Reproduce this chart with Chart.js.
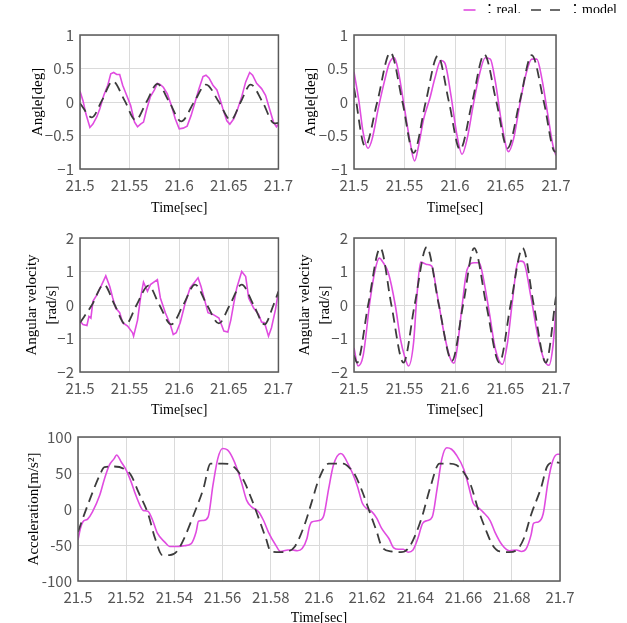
<!DOCTYPE html>
<html lang="en">
<head>
<meta charset="UTF-8">
<title>Real vs model: angle, angular velocity, acceleration</title>
<script src="https://cdn.jsdelivr.net/npm/chart.js@4"></script>
<style>
  body { margin: 0; width: 627px; height: 623px; overflow: hidden; background: #fff; position: relative; }
  canvas { position: absolute; }
</style>
</head>
<body>
<canvas id="legendKey" width="200" height="40" style="left:427px;top:-7px"></canvas>
<canvas id="angleLeft" width="300" height="200" style="left:0;top:20px"></canvas>
<canvas id="angleRight" width="337" height="200" style="left:290px;top:20px"></canvas>
<canvas id="velLeft" width="300" height="200" style="left:0;top:220px"></canvas>
<canvas id="velRight" width="337" height="200" style="left:290px;top:220px"></canvas>
<canvas id="accel" width="627" height="215" style="left:0;top:420px"></canvas>

<script>
// tick labels
var xTicksShort = [21.5, 21.55, 21.6, 21.65, 21.7];
var xTicksLong = [21.5, 21.52, 21.54, 21.56, 21.58, 21.6, 21.62, 21.64, 21.66, 21.68, 21.7];
var yTicksAngle = [-1, -0.5, 0, 0.5, 1];
var yTicksVel = [-2, -1, 0, 1, 2];
var yTicksAcc = [-100, -50, 0, 50, 100];

// angle, left panel
var angL_realT = [21.500,21.503,21.506,21.510,21.513,21.517,21.520,21.524,21.528,21.531,21.534,21.537,21.540,21.543,21.547,21.551,21.555,21.558,21.561,21.564,21.567,21.571,21.575,21.578,21.581,21.584,21.588,21.592,21.596,21.600,21.604,21.608,21.612,21.616,21.620,21.624,21.627,21.630,21.634,21.638,21.641,21.644,21.648,21.651,21.655,21.659,21.663,21.667,21.671,21.674,21.678,21.683,21.687,21.691,21.695,21.698,21.700];
var angL_realY = [0.16,0.02,-0.18,-0.38,-0.33,-0.22,-0.10,0.10,0.25,0.42,0.44,0.41,0.41,0.25,0.10,-0.05,-0.30,-0.37,-0.33,-0.30,-0.12,0.08,0.18,0.28,0.26,0.22,0.12,-0.05,-0.25,-0.40,-0.39,-0.36,-0.20,0.00,0.20,0.38,0.40,0.36,0.25,0.18,0.05,-0.10,-0.28,-0.33,-0.25,-0.10,0.08,0.30,0.44,0.40,0.28,0.20,0.10,-0.10,-0.30,-0.37,-0.33];
var angL_modelT = [21.500,21.512,21.522,21.533,21.545,21.556,21.567,21.578,21.590,21.602,21.615,21.627,21.640,21.652,21.662,21.672,21.684,21.696,21.700];
var angL_modelY = [-0.02,-0.23,0.02,0.31,0.02,-0.27,0.00,0.27,0.00,-0.29,0.00,0.26,0.00,-0.27,0.00,0.26,0.00,-0.32,-0.31];

// angle, right panel
var angR_realT = [21.500,21.505,21.509,21.514,21.518,21.524,21.530,21.535,21.540,21.544,21.549,21.555,21.560,21.564,21.569,21.575,21.580,21.586,21.590,21.596,21.602,21.607,21.612,21.618,21.624,21.630,21.635,21.640,21.646,21.653,21.658,21.664,21.670,21.676,21.681,21.686,21.692,21.697,21.700];
var angR_realY = [0.45,0.00,-0.45,-0.69,-0.55,-0.10,0.30,0.58,0.66,0.45,0.00,-0.55,-0.88,-0.65,-0.25,0.05,0.35,0.62,0.58,0.10,-0.50,-0.78,-0.55,-0.05,0.40,0.66,0.64,0.30,-0.30,-0.74,-0.55,-0.05,0.40,0.64,0.64,0.35,-0.20,-0.65,-0.80];
var angR_modelT = [21.500,21.511,21.523,21.536,21.548,21.559,21.571,21.583,21.594,21.605,21.617,21.629,21.641,21.652,21.664,21.676,21.688,21.699,21.700];
var angR_modelY = [0.21,-0.66,0.00,0.74,0.00,-0.76,0.00,0.69,0.00,-0.71,0.00,0.71,0.00,-0.69,0.00,0.70,0.00,-0.74,-0.74];

// angular velocity, left panel
var velL_realT = [21.500,21.503,21.507,21.509,21.511,21.513,21.517,21.521,21.526,21.530,21.533,21.536,21.540,21.543,21.548,21.553,21.554,21.558,21.561,21.564,21.568,21.571,21.578,21.581,21.586,21.591,21.594,21.597,21.601,21.606,21.611,21.619,21.622,21.629,21.634,21.640,21.645,21.649,21.652,21.655,21.658,21.663,21.667,21.670,21.675,21.680,21.683,21.686,21.690,21.693,21.697,21.700];
var velL_realY = [-0.48,-0.58,-0.61,-0.34,-0.39,0.11,0.30,0.55,0.87,0.55,0.21,-0.09,-0.23,-0.53,-0.63,-0.83,-0.93,-0.45,0.21,0.68,0.41,0.61,0.76,0.21,-0.23,-0.58,-0.88,-0.83,-0.53,0.05,0.51,0.81,0.55,-0.23,-0.28,-0.39,-0.78,-0.81,-0.45,0.05,0.51,1.00,0.85,0.21,-0.09,-0.28,-0.51,-0.53,-0.93,-0.68,-0.14,0.41];
var velL_modelT = [21.500,21.512,21.524,21.535,21.546,21.557,21.569,21.580,21.592,21.604,21.616,21.628,21.640,21.651,21.663,21.675,21.686,21.695,21.700];
var velL_modelY = [-0.53,0.00,0.61,0.00,-0.58,0.00,0.58,0.00,-0.58,0.00,0.61,0.00,-0.55,0.00,0.61,0.00,-0.58,0.00,0.40];

// angular velocity, right panel
var velR_realT = [21.500,21.504,21.509,21.516,21.521,21.525,21.529,21.534,21.541,21.546,21.550,21.554,21.559,21.562,21.566,21.572,21.577,21.582,21.589,21.595,21.599,21.602,21.607,21.612,21.619,21.624,21.627,21.634,21.640,21.647,21.652,21.657,21.662,21.665,21.668,21.675,21.682,21.688,21.693,21.697,21.700];
var velR_realY = [-1.28,-1.82,-1.52,0.16,1.06,1.40,1.26,0.96,-0.03,-1.02,-1.52,-1.82,-1.12,0.16,1.28,1.21,1.16,0.37,-0.82,-1.57,-1.74,-1.32,-0.03,1.06,1.26,1.26,0.96,-0.23,-1.32,-1.77,-1.12,0.16,1.26,1.31,1.28,0.27,-0.92,-1.62,-1.80,-1.22,-0.10];
var velR_modelT = [21.500,21.503,21.514,21.526,21.537,21.549,21.560,21.572,21.584,21.597,21.608,21.619,21.631,21.644,21.655,21.667,21.678,21.690,21.700];
var velR_modelY = [-1.50,-1.72,0.00,1.70,0.00,-1.72,0.00,1.73,0.00,-1.67,0.00,1.70,0.00,-1.72,0.00,1.70,0.00,-1.72,0.25];

// acceleration
var acc_realT = [21.500,21.501,21.502,21.504,21.506,21.509,21.511,21.513,21.515,21.516,21.518,21.520,21.522,21.524,21.526,21.527,21.529,21.531,21.533,21.536,21.538,21.541,21.544,21.547,21.549,21.550,21.552,21.554,21.556,21.558,21.560,21.562,21.564,21.566,21.568,21.570,21.572,21.575,21.577,21.579,21.582,21.584,21.587,21.589,21.591,21.593,21.595,21.596,21.597,21.600,21.602,21.604,21.606,21.609,21.610,21.612,21.614,21.616,21.618,21.620,21.622,21.624,21.626,21.629,21.631,21.633,21.635,21.637,21.639,21.641,21.643,21.645,21.647,21.649,21.651,21.653,21.655,21.657,21.660,21.662,21.664,21.666,21.668,21.671,21.673,21.676,21.679,21.682,21.684,21.686,21.688,21.689,21.691,21.693,21.695,21.697,21.699,21.700];
var acc_realY = [-43,-27,-18,-14,-4,19,42,61,70,75,65,54,38,19,3,-2,-3,-16,-34,-46,-52,-52,-51,-48,-32,-17,-16,-11,33,70,84,82,72,56,35,12,3,-4,-16,-32,-50,-59,-57,-57,-58,-55,-41,-25,-18,-16,-9,28,61,77,75,63,49,31,8,0,-4,-13,-27,-41,-54,-56,-56,-60,-57,-41,-20,-16,-11,28,70,85,83,75,56,33,8,2,-4,-16,-32,-50,-58,-57,-59,-55,-36,-20,-18,-7,37,67,76,76];
var acc_modelT = [21.500,21.502,21.505,21.509,21.511,21.515,21.519,21.522,21.525,21.529,21.532,21.535,21.538,21.541,21.544,21.548,21.552,21.555,21.560,21.563,21.566,21.569,21.572,21.575,21.578,21.580,21.584,21.587,21.590,21.594,21.597,21.600,21.604,21.610,21.613,21.615,21.618,21.621,21.624,21.626,21.630,21.634,21.637,21.640,21.643,21.646,21.650,21.654,21.657,21.660,21.663,21.666,21.669,21.672,21.675,21.679,21.682,21.685,21.688,21.692,21.695,21.698,21.700];
var acc_modelY = [-32,-13,14,47,58,59,56,47,24,-6,-41,-64,-64,-59,-41,-8,28,63,63,62,54,38,14,-13,-41,-59,-60,-59,-52,-22,10,42,63,63,56,47,24,-4,-32,-52,-59,-60,-55,-36,-8,28,63,63,61,51,33,0,-27,-50,-59,-60,-57,-41,-8,28,61,65,64];

var REAL_COLOR = '#e04ce0';
var MODEL_COLOR = '#3c3c3c';
var SERIF = "'Liberation Serif', 'Noto Sans CJK JP', serif";
var TICK_FONT = "'Noto Sans CJK JP', 'Noto Sans', sans-serif";

function pts(t, y) {
    return t.map(function (v, i) { return {x: v, y: y[i]}; });
}

function fmt(v) {
    return String(v).replace('-', '\u2212');
}

// box around the plot area
var frame = {
    id: 'frame',
    afterDatasetsDraw: function (chart) {
        var a = chart.chartArea, ctx = chart.ctx;
        ctx.save();
        ctx.strokeStyle = '#5a5a5a';
        ctx.lineWidth = 1.5;
        ctx.strokeRect(a.left, a.top, a.right - a.left, a.bottom - a.top);
        ctx.restore();
    }
};

function makePanel(id, o) {
    return new Chart(document.getElementById(id), {
        type: 'line',
        data: {
            datasets: [{
                label: 'model',
                data: pts(o.modelT, o.modelY),
                borderColor: MODEL_COLOR,
                borderWidth: 1.8,
                borderDash: [10, 6],
                pointRadius: 0,
                cubicInterpolationMode: 'monotone',
                order: 0
            }, {
                label: 'real',
                data: pts(o.realT, o.realY),
                borderColor: REAL_COLOR,
                borderWidth: 1.6,
                pointRadius: 0,
                cubicInterpolationMode: o.smooth ? 'monotone' : 'default',
                tension: 0,
                order: 1
            }]
        },
        options: {
            responsive: false,
            animation: false,
            devicePixelRatio: 1,
            layout: { padding: o.pad },
            plugins: { legend: { display: false }, tooltip: { enabled: false } },
            scales: {
                x: {
                    type: 'linear',
                    min: o.xTicks[0],
                    max: o.xTicks[o.xTicks.length - 1],
                    afterBuildTicks: function (s) { s.ticks = o.xTicks.map(function (v) { return {value: v}; }); },
                    afterFit: function (s) { s.height = o.xH; },
                    grid: { color: '#dadada', drawTicks: false },
                    border: { display: false },
                    ticks: {
                        autoSkip: false, maxRotation: 0, padding: 7,
                        color: '#555', font: { family: TICK_FONT, size: 15 },
                        callback: function (v) { return fmt(v); }
                    },
                    title: {
                        display: true, text: 'Time[sec]', color: '#000',
                        font: { family: SERIF, size: 14 },
                        padding: { top: 0, bottom: o.xTitlePad }
                    }
                },
                y: {
                    min: o.yTicks[0],
                    max: o.yTicks[o.yTicks.length - 1],
                    afterBuildTicks: function (s) { s.ticks = o.yTicks.map(function (v) { return {value: v}; }); },
                    afterFit: function (s) { s.width = o.yW; },
                    grid: { color: '#dadada', drawTicks: false },
                    border: { display: false },
                    ticks: {
                        padding: 6,
                        color: '#555', font: { family: TICK_FONT, size: 15 },
                        callback: function (v) { return o.minus ? fmt(v) : String(v); }
                    },
                    title: {
                        display: true, text: o.yTitle, color: '#000',
                        font: { family: SERIF, size: 15, lineHeight: 1.33 },
                        padding: { top: o.yTitlePad, bottom: 0 }
                    }
                }
            }
        },
        plugins: [frame]
    });
}

makePanel('angleLeft', {
    realT: angL_realT, realY: angL_realY, modelT: angL_modelT, modelY: angL_modelY,
    xTicks: xTicksShort, yTicks: yTicksAngle, minus: true, smooth: false,
    pad: { left: 0, top: 15, right: 18, bottom: 0 }, yW: 80, xH: 51, xTitlePad: 3,
    yTitle: 'Angle[deg]', yTitlePad: 28
});

makePanel('angleRight', {
    realT: angR_realT, realY: angR_realY, modelT: angR_modelT, modelY: angR_modelY,
    xTicks: xTicksShort, yTicks: yTicksAngle, minus: true, smooth: true,
    pad: { left: 0, top: 15, right: 71, bottom: 0 }, yW: 64, xH: 51, xTitlePad: 3,
    yTitle: 'Angle[deg]', yTitlePad: 11
});

makePanel('velLeft', {
    realT: velL_realT, realY: velL_realY, modelT: velL_modelT, modelY: velL_modelY,
    xTicks: xTicksShort, yTicks: yTicksVel, minus: true, smooth: false,
    pad: { left: 0, top: 18, right: 18, bottom: 0 }, yW: 80, xH: 48, xTitlePad: 1,
    yTitle: ['Angular velocity', '[rad/s]'], yTitlePad: 22
});

makePanel('velRight', {
    realT: velR_realT, realY: velR_realY, modelT: velR_modelT, modelY: velR_modelY,
    xTicks: xTicksShort, yTicks: yTicksVel, minus: true, smooth: true,
    pad: { left: 0, top: 18, right: 71, bottom: 0 }, yW: 64, xH: 48, xTitlePad: 1,
    yTitle: ['Angular velocity', '[rad/s]'], yTitlePad: 5
});

makePanel('accel', {
    realT: acc_realT, realY: acc_realY, modelT: acc_modelT, modelY: acc_modelY,
    xTicks: xTicksLong, yTicks: yTicksAcc, minus: false, smooth: true,
    pad: { left: 0, top: 17, right: 67, bottom: 0 }, yW: 78, xH: 54, xTitlePad: 8,
    yTitle: 'Acceleration[m/s\u00b2]', yTitlePad: 24
});

// legend key at the top right; the real sample is a short stroke at the right end
new Chart(document.getElementById('legendKey'), {
    type: 'line',
    data: {
        datasets: [
            { label: '\uff1areal.', data: [], borderColor: REAL_COLOR, borderWidth: 1.6, borderDash: [12, 40], borderDashOffset: 34 },
            { label: '\uff1amodel', data: [], borderColor: MODEL_COLOR, borderWidth: 1.6, borderDash: [10, 9], borderDashOffset: 0 }
        ]
    },
    options: {
        responsive: false,
        animation: false,
        devicePixelRatio: 1,
        scales: { x: { display: false }, y: { display: false } },
        plugins: {
            tooltip: { enabled: false },
            legend: {
                position: 'top',
                align: 'end',
                labels: {
                    usePointStyle: true, pointStyleWidth: 30,
                    color: '#000', padding: 10,
                    font: { family: SERIF, size: 14 },
                    generateLabels: function (chart) {
                        return chart.data.datasets.map(function (ds, i) {
                            return {
                                text: ds.label, datasetIndex: i, hidden: false,
                                strokeStyle: ds.borderColor, fillStyle: ds.borderColor,
                                lineWidth: ds.borderWidth, lineDash: ds.borderDash,
                                lineDashOffset: ds.borderDashOffset,
                                pointStyle: 'line'
                            };
                        });
                    }
                }
            }
        }
    }
});
</script>
</body>
</html>
